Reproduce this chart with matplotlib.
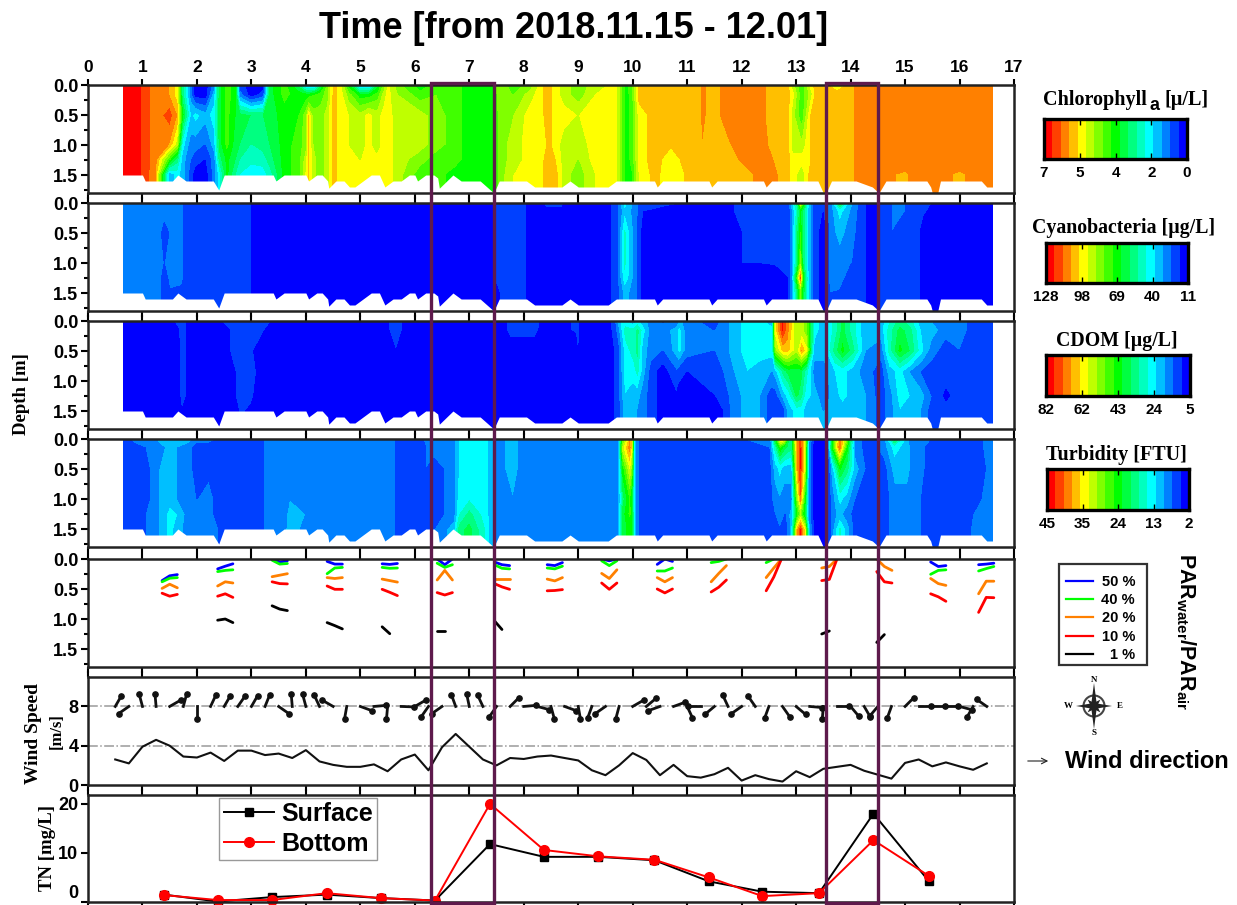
#!/usr/bin/env python3
"""Lake profile chart: four contour panels, PAR depths, wind and TN on a shared day axis."""
import numpy as np
import matplotlib
matplotlib.use("Agg")
import matplotlib.pyplot as plt
from matplotlib.colors import ListedColormap, BoundaryNorm
from matplotlib.patches import Rectangle, Circle

plt.rcParams["font.family"] = "Liberation Sans"
plt.rcParams["font.weight"] = "bold"
plt.rcParams["mathtext.fontset"] = "custom"
plt.rcParams["mathtext.bf"] = "Liberation Sans:bold"
plt.rcParams["mathtext.rm"] = "Liberation Sans:bold"

W, H = 1237, 905
PURPLE = "#5e1a4c"
SERIF = "Liberation Serif"

# colour bar bands, red to blue
band_colors = ["#ff0000", "#ff4000", "#ff8000", "#ffbf00", "#ffff00", "#bfff00", "#80ff00", "#40ff00",
               "#00ff00", "#00ff40", "#00ff80", "#00ffbf", "#00ffff", "#00bfff", "#0080ff", "#0040ff", "#0000ff"]

depths = [0.0, 0.15, 0.5, 1.0, 1.25, 1.5]
cdom_depths = [0.0, 0.15, 0.5, 0.85, 1.25, 1.5]

# contour data: day, then colour bar step (0 = top of scale, 16 = bottom) at each of depths
chl_columns = [
    [0.65, 0, 0, 0, 0, 0, 0], [0.95, .3, .3, .3, .3, .3, .3], [1.05, 1, 1, 1, 1, 1, .8],
    [1.25, 2, 2, 2, 2, 2, 2.5], [1.5, 2.5, 2.5, .9, 2.5, 7, 13], [1.65, 4, 4, 2.5, 5, 10, 12],
    [1.75, 10, 10, 8, 12, 13, 13], [1.9, 14, 14, 12.5, 14, 14.5, 15], [1.98, 16, 16, 12, 14, 15, 16],
    [2.15, 16, 16, 13, 14.5, 15.5, 16], [2.3, 14, 13, 12, 13, 14, 14], [2.4, 9, 9, 9, 9, 10, 12],
    [2.55, 7, 7, 7, 7, 8, 8], [2.72, 8, 8, 8.5, 9, 9.5, 10.5], [2.8, 15, 14, 9, 9.5, 10.5, 11.5],
    [3.0, 16, 16, 9.5, 10.5, 11, 12.5], [3.2, 16, 15, 9.5, 10, 11, 12], [3.32, 9, 9, 9, 9.5, 10, 11],
    [3.6, 7, 7, 8, 8, 8, 8], [3.85, 9, 8, 7.5, 7, 7, 7], [3.98, 12, 8, 6, 6, 5, 4.5],
    [4.05, 13, 8, 3, 3, 3, 3], [4.15, 13, 7.5, 6, 5.5, 5, 5], [4.25, 10, 7, 6, 6, 6, 6],
    [4.38, 6, 6, 5, 5, 5, 5], [4.5, 3, 3, 3, 3, 3, 3], [4.65, 4, 4, 4, 4, 4, 4],
    [4.8, 8, 6, 4.5, 4.5, 4.5, 4.5], [5.0, 13, 8, 5, 5, 4.5, 4.5], [5.15, 13, 8, 4, 4, 4, 4],
    [5.3, 9, 7, 5, 5, 4, 4], [5.42, 6, 5, 4, 4, 4, 4], [5.5, 4, 4, 4, 4, 4, 4],
    [5.7, 6, 5.5, 5, 5, 5, 5], [6.1, 8, 7, 5, 5, 6, 7], [6.4, 7, 6.5, 6, 6, 7, 7],
    [6.75, 7, 7, 7, 7, 7, 8], [7.0, 8, 8, 8, 8, 8, 8.5], [7.4, 8, 8, 8, 8, 8, 8],
    [7.55, 5.5, 5.5, 6, 6, 6, 6], [7.8, 7, 6.5, 5.5, 5, 5, 4.5], [8.1, 6, 5, 4, 4, 4, 4],
    [8.35, 3.5, 3.5, 3.5, 4, 3.5, 3.5], [8.45, 3, 3, 3, 3, 3, 3], [8.6, 4, 4, 4, 4, 3.5, 3],
    [8.75, 5, 5, 4, 5, 5, 5], [9.0, 6, 6, 4.5, 5, 5.5, 6], [9.3, 5, 4.5, 4, 4, 4, 4.5],
    [9.7, 4, 4, 4, 4, 4, 4], [9.8, 6, 6, 6, 6, 6, 6], [9.88, 8, 8, 8, 8, 8, 8],
    [9.98, 6.5, 6.5, 7, 7, 7, 7.5], [10.1, 3, 3, 4, 4, 4, 4.5], [10.4, 3, 3, 3, 3, 3, 3],
    [10.7, 3, 3, 3, 3.3, 4, 4.3], [11.0, 3, 3, 3, 3, 3, 3.3], [11.2, 3, 3, 3, 3, 3, 3],
    [11.28, 2, 2, 2, 2.5, 3, 3], [11.42, 3, 3, 3, 3, 3, 3], [11.75, 2, 2, 2, 2.6, 3, 3],
    [12.0, 2, 2, 2, 2, 2.3, 3], [12.4, 2, 2, 2, 2, 2, 2], [12.5, 3, 3, 3, 2.5, 2.3, 2],
    [12.85, 3, 3, 3, 3, 3, 3], [12.95, 5, 4, 5, 5, 4, 4], [13.1, 7, 7, 7, 5, 4, 5],
    [13.25, 4, 5, 3.5, 3.5, 3.5, 3], [13.35, 3, 3, 3, 3, 3, 3], [13.5, 3, 3, 3, 2.5, 2.5, 3],
    [13.75, 4, 3, 3, 3, 3, 3], [14.0, 3, 3, 3, 3, 3, 3], [14.1, 2, 2, 2, 2, 2, 2],
    [15.0, 2, 2, 2, 2, 2, 2.6], [15.3, 2, 2, 2, 2, 2, 2], [16.0, 2, 2, 2, 2, 2, 2.6],
    [16.6, 2, 2, 2, 2, 2, 2],
]
cyano_columns = [
    [0.65, 14, 14, 14, 14, 14, 14], [1.3, 14, 14, 14, 14, 14, 14], [1.4, 14, 14, 15, 14.5, 15, 15],
    [1.5, 14, 14, 14.4, 14, 14.2, 14.6], [1.72, 14, 14, 14, 14, 14, 15], [1.8, 15, 15, 15, 15, 15, 15],
    [2.95, 15, 15, 15, 15, 15, 15], [3.05, 16, 16, 16, 16, 16, 16], [5.4, 16, 16, 16, 16, 16, 16],
    [5.5, 15.4, 16, 16, 16, 16, 16], [5.65, 16, 16, 16, 16, 16, 16], [7.35, 16, 16, 16, 16, 16, 16],
    [7.55, 14.5, 15, 15, 15, 15, 15.5], [8.0, 15, 15, 15, 15, 15, 15], [8.1, 16, 16, 16, 16, 16, 16],
    [8.4, 15.4, 15.6, 16, 16, 16, 16], [8.7, 15.4, 15.6, 16, 16, 16, 16], [9.0, 16, 16, 16, 16, 16, 16],
    [9.5, 16, 16, 16, 16, 16, 16], [9.7, 15, 15, 15, 15, 15, 15], [9.85, 12, 12.5, 11, 11, 11.5, 13],
    [10.05, 14, 14, 14, 14, 14, 14], [10.2, 15.5, 15.5, 16, 16, 16, 16], [10.7, 15.3, 16, 16, 16, 16, 16],
    [11.7, 16, 16, 16, 16, 16, 16], [12.0, 15, 15, 15.5, 15.5, 16, 16], [12.2, 15, 15, 15, 15.5, 16, 16],
    [12.6, 14.8, 15, 15.4, 15.4, 16, 16], [12.85, 14.5, 15, 15, 15, 15.5, 15.5], [12.9, 13, 14, 14, 14, 14, 14],
    [13.0, 10, 11, 10, 10, 7, 10], [13.08, 3, 8, 7, 5, 0, 6], [13.15, 7, 10, 10, 10, 8, 9],
    [13.25, 13, 13, 13, 13, 13, 13], [13.35, 15, 15, 15, 15, 15, 15], [13.5, 15, 15.5, 16, 16, 16, 16],
    [13.62, 14, 14, 14, 14, 14, 14.5], [13.8, 8, 12, 13, 14, 14, 14.6], [14.0, 13, 13.5, 14, 14.4, 15, 15],
    [14.2, 15, 15, 15, 15, 15, 15.4], [14.3, 15.5, 15.5, 15.5, 15.5, 15.5, 15.5], [14.5, 15.7, 15.7, 15.7, 15.7, 15.7, 15.7],
    [14.6, 15, 15, 15, 15, 15, 15], [14.75, 14.5, 14.5, 14.5, 14.5, 14.5, 14.5], [15.0, 14.5, 14.5, 15, 15, 15, 15],
    [15.2, 15, 15, 15, 15, 15, 15], [15.35, 15, 15.4, 16, 16, 16, 16], [15.65, 16, 16, 16, 16, 16, 16],
    [16.6, 16, 16, 16, 16, 16, 16],
]
cdom_columns = [
    [0.65, 16, 16, 16, 16, 16, 16], [1.5, 16, 16, 16, 16, 16, 16], [1.65, 15, 15.6, 16, 16, 16, 16],
    [1.72, 15, 15, 15, 15, 15, 15.5], [1.9, 16, 16, 16, 16, 16, 16], [2.4, 15.6, 16, 16, 16, 16, 16],
    [2.6, 15, 15.5, 15.5, 16, 16, 16], [2.8, 15, 15, 15, 15, 15, 15.4], [3.0, 15, 15.5, 15.4, 15.2, 15.4, 15.6],
    [3.25, 15.4, 15.5, 16, 16, 16, 16], [3.5, 15.6, 16, 16, 16, 16, 16], [3.7, 16, 16, 16, 16, 16, 16],
    [5.0, 15.4, 16, 16, 16, 16, 16], [5.4, 16, 16, 16, 16, 16, 16], [5.65, 15, 15, 15.5, 16, 16, 16],
    [5.9, 16, 16, 16, 16, 16, 16], [7.55, 16, 16, 16, 16, 16, 16], [7.75, 15.2, 15.2, 16, 16, 16, 16],
    [8.0, 15.4, 15.2, 16, 16, 16, 16], [8.2, 15, 15.2, 16, 16, 16, 16], [8.4, 16, 16, 16, 16, 16, 16],
    [8.95, 15.4, 15.4, 16, 16, 16, 16], [9.0, 15, 15, 15.4, 15.4, 16, 16], [9.05, 16, 16, 16, 16, 16, 16],
    [9.55, 16, 16, 16, 16, 16, 16], [9.65, 15, 15, 15.5, 15.5, 15.5, 15.5], [9.72, 13, 14, 15, 15, 15, 15],
    [9.85, 12, 11, 12, 12, 12.5, 13], [10.0, 13, 11, 11, 12, 13, 13.5], [10.09, 12, 10, 10, 11, 13, 13.5],
    [10.2, 13, 12, 13, 13, 14, 14], [10.35, 14, 14, 14, 15, 15, 15], [10.55, 14.6, 14, 14.5, 16, 16, 16],
    [10.8, 14, 13, 13, 14.6, 15.6, 16], [10.85, 13, 12, 12, 15, 16, 16], [11.0, 14, 14, 14, 15.5, 16, 16],
    [11.5, 15, 14.5, 14.5, 15, 15.5, 16], [11.65, 14, 14, 14, 14.5, 15, 15.5], [11.85, 13, 13, 13, 13.5, 14, 14],
    [12.1, 12, 12, 12, 12.5, 13, 13], [12.35, 12, 12, 12, 13, 13.5, 13.5], [12.55, 13, 12, 12, 13.5, 15, 15],
    [12.6, 4, 4, 6, 13, 15, 15.5], [12.75, 0, 0, 3, 10, 13, 15], [12.85, 2, 2, 3, 9, 12, 13],
    [13.0, 5, 5, 5, 9, 9, 12], [13.1, 5, 5, 2, 9, 10, 12], [13.2, 6, 6, 4, 11, 12, 13],
    [13.35, 12, 12, 13, 14, 13, 13], [13.5, 13, 13, 13, 14, 14, 13.5], [13.7, 11, 11, 10, 12.5, 13, 13],
    [13.85, 9, 9, 8, 12, 12, 13], [14.05, 11, 11, 10, 13, 13, 13.5], [14.3, 13.5, 13.5, 13.5, 14, 13.5, 13.5],
    [14.55, 13, 13, 14, 15, 15, 15], [14.7, 11.5, 11, 11, 13, 14, 14], [14.9, 10, 9, 8, 12, 12, 12.5],
    [15.1, 11, 10, 9.5, 13.5, 12.5, 13], [15.3, 13, 12.5, 12, 14.5, 13, 13.5], [15.5, 13.5, 13, 14, 15, 14.5, 15],
    [15.75, 14, 14, 15, 15, 15.7, 15], [16.0, 14, 14, 14.5, 15, 15, 15], [16.3, 15, 15, 15, 15, 15, 15],
    [16.6, 15, 15, 15, 15, 15, 15],
]
turb_columns = [
    [0.65, 15, 15, 15, 15, 15, 15], [0.85, 14, 15, 15, 15, 15, 15], [1.05, 14, 14.5, 15, 15, 14.5, 14.5],
    [1.2, 14, 14, 14, 14, 14, 14], [1.3, 13, 14, 13.5, 13.5, 13.5, 13.5], [1.5, 13, 13, 13.5, 13, 12, 12],
    [1.65, 12.5, 13.5, 13.5, 13.5, 12.5, 13], [1.85, 13, 14, 14, 14, 14, 14], [2.0, 14, 15, 15, 14.5, 14, 14],
    [2.22, 14, 15, 14.8, 14, 14, 14], [2.4, 14.6, 15, 15, 15, 15, 14.5], [3.2, 15, 15, 15, 15, 15, 15],
    [3.25, 14, 14, 14, 14, 14, 14], [3.6, 14, 14, 14, 14, 14, 14], [3.7, 14, 14, 14, 13.5, 13, 12.5],
    [4.0, 14, 14, 14, 14, 13.5, 14], [4.4, 14, 14, 14, 14, 14, 13.5], [5.0, 13.6, 14, 14, 14, 14, 14],
    [5.6, 14, 14, 14, 14, 14, 14], [5.7, 15, 15, 15, 15, 15, 15], [6.1, 15, 15, 15, 15, 15, 15],
    [6.2, 14, 14.5, 14.5, 15, 15, 15], [6.35, 14, 14, 15, 15, 15, 14.5], [6.7, 14, 14, 14, 14, 14, 13],
    [6.8, 12.5, 12.5, 12.5, 12, 11.5, 10], [7.0, 12, 12, 12, 11.5, 10, 9], [7.3, 12, 12, 12, 12, 12, 11.5],
    [7.42, 13, 13, 13, 13, 13, 13], [7.5, 14, 14, 14, 14, 14, 14], [7.8, 13, 13, 13, 13.5, 13.5, 13.5],
    [8.0, 14, 14, 14, 14, 14, 14], [9.72, 14, 14, 14, 14, 14, 14], [9.8, 7, 5, 8, 10, 9, 9],
    [9.95, 2, 1.5, 4, 7, 7, 8], [10.0, 4, 4, 6, 9, 8, 8], [10.05, 13, 13, 13, 13, 13, 13],
    [10.15, 15, 15, 15, 15, 15, 15], [11.6, 15, 15, 15, 15, 15, 15], [11.8, 14.5, 14.7, 15, 15, 15, 15],
    [12.0, 14.5, 15, 15, 15, 15, 15], [12.5, 14.5, 14.5, 15, 15, 15, 15], [12.6, 8, 11, 13, 14, 14.5, 15],
    [12.7, 2, 7, 12, 13.5, 14, 14.5], [12.8, 3, 9, 13, 14, 14.5, 15], [12.9, 10, 10, 13, 14, 13, 13],
    [13.0, 2, 3, 3, 6, 8, 3], [13.08, 1, 0, 0, 1, 5, 0], [13.18, 4, 5, 5, 8, 9, 4],
    [13.25, 13, 14, 14, 14, 14, 13], [13.35, 16, 16, 16, 16, 16, 16], [13.55, 16, 16, 16, 16, 16, 16],
    [13.65, 9, 8, 13, 14, 14, 14], [13.8, 1, 1, 8, 12, 13, 11], [13.95, 6, 8, 10, 13, 14, 13],
    [14.1, 14, 14, 13, 14.5, 15, 15], [14.35, 15, 15, 15, 15, 15, 15], [14.6, 14, 14, 15, 15, 15, 15],
    [14.8, 8, 12, 13, 14, 14, 14], [15.05, 13, 13, 13, 14, 14, 14], [15.1, 14, 13.5, 13.5, 14, 14, 14],
    [15.5, 14.5, 15, 15, 15, 15, 15], [16.0, 15, 15, 15, 15, 15, 15], [16.2, 15, 15, 15, 15, 14.7, 14.5],
    [16.35, 15, 15, 15, 14.7, 14, 14], [16.5, 14, 14, 14.4, 14, 14, 14], [16.6, 14, 14, 14, 14, 14, 14],
]

# lake bottom under the contour panels
bottom_x = [0.6, 1.0, 1.05, 1.55, 1.65, 1.8, 2.3, 2.4, 2.5, 3.4, 3.45, 3.6, 4.0, 4.05, 4.2, 4.3, 4.4, 4.42,
            4.55, 4.7, 4.8, 4.9, 5.2, 5.35, 5.45, 5.6, 5.75, 5.9, 6.0, 6.05, 6.2, 6.35, 6.42, 6.45, 6.7, 6.85,
            7.2, 7.45, 7.55, 8.05, 8.2, 8.7, 8.85, 9.0, 9.55, 9.7, 10.4, 10.45, 10.55, 11.4, 11.45, 11.55,
            12.4, 12.45, 12.55, 13.4, 13.5, 13.55, 13.65, 14.1, 14.4, 14.52, 14.65, 15.4, 15.47, 15.5, 15.6,
            15.65, 16.4, 16.5, 16.65]
bottom_depth = [1.5, 1.5, 1.6, 1.6, 1.5, 1.6, 1.6, 1.75, 1.5, 1.5, 1.6, 1.5, 1.5, 1.6, 1.5, 1.5, 1.6, 1.72,
                1.6, 1.6, 1.7, 1.7, 1.5, 1.5, 1.7, 1.6, 1.6, 1.5, 1.5, 1.6, 1.5, 1.5, 1.55, 1.72, 1.5, 1.6,
                1.6, 1.8, 1.6, 1.6, 1.7, 1.7, 1.6, 1.7, 1.7, 1.6, 1.6, 1.7, 1.6, 1.6, 1.7, 1.6,
                1.6, 1.7, 1.6, 1.6, 1.8, 1.8, 1.6, 1.6, 1.7, 1.8, 1.6, 1.6, 1.7, 1.8, 1.8,
                1.6, 1.6, 1.7, 1.7]

# PAR depth segments, three points per site
par_left = [1.36, 2.38, 3.38, 4.39, 5.4, 6.41, 7.46, 8.43, 9.43, 10.45, 11.44, 12.45, 13.47, 14.48, 15.47, 16.35]
nan = float("nan")
par_50 = [[.36, .28, .26], [.165, .12, .08], [0, .05, .03], [.04, .085, .085], [.08, .09, .075], [0, .095, 0],
          [.05, .095, .11], [.095, .11, .06], [0, .03, 0], [.09, 0, .04], [nan, nan, nan], [nan, nan, nan],
          [nan, nan, nan], [nan, nan, nan], [.05, .125, .11], [.095, .085, .07]]
par_40 = [[.38, .32, .31], [.21, .19, .18], [.02, .085, .075], [.245, .15, .14], [.14, .155, .15], [.07, .14, .095],
          [.095, .155, .165], [.15, .165, .12], [.03, .11, .03], [.2, .2, .15], [.06, .04, 0], [.06, 0, nan],
          [nan, nan, nan], [nan, nan, nan], [.255, .19, .18], [.2, .16, .125]]
par_20 = [[.49, .42, .48], [.45, .38, .40], [.295, .27, .245], [.31, .325, .31], [.335, .36, .385], [.35, .19, .35],
          [.325, .325, .325], [.335, .365, .31], [.24, .325, .18], [.31, .38, .31], [.38, .24, .11], [.31, .15, 0],
          [.15, .125, 0], [0, .125, .19], [.325, .41, .44], [.58, .37, .37]]
par_10 = [[.57, .62, .59], [.62, .58, .64], [.38, .41, .415], [.45, .505, .505], [.505, .555, .61], [.56, .6, .56],
          [.41, .465, .505], [.53, .525, .51], [.4, .505, .4], [.5, .565, .5], [.55, .47, .35], [.53, .3, 0],
          [.36, .34, 0], [.21, .38, .4], [.58, .63, .705], [.89, .64, .645]]
par_1 = [[nan, nan, nan], [1.02, 1.0, 1.06], [.78, .835, .86], [1.06, 1.11, 1.165], [1.13, 1.245, nan], [1.2, 1.2, nan],
         [1.03, 1.175, nan], [nan, nan, nan], [nan, nan, nan], [nan, nan, nan], [nan, nan, nan], [nan, nan, nan],
         [1.25, 1.2, nan], [1.39, 1.26, nan], [nan, nan, nan], [nan, nan, nan]]

# wind, every quarter day
wind_x = np.arange(65) * 0.25 + 0.5
wind_speed = [2.6, 2.2, 3.9, 4.6, 4.0, 2.9, 2.8, 3.3, 2.45, 3.5, 3.5, 3.05, 3.2, 2.75, 3.55, 2.4, 2.05, 1.85, 1.85,
              2.1, 1.4, 2.6, 3.1, 1.5, 3.85, 5.2, 3.9, 2.6, 2.0, 2.75, 2.65, 2.9, 3.0, 2.75, 2.5, 1.5, 1.0, 2.0,
              3.25, 2.55, 1.0, 2.05, 0.9, 0.75, 1.1, 1.75, 0.45, 1.0, 0.6, 0.35, 1.4, 0.8, 1.65, 1.85, 2.05, 1.45,
              1.05, 0.65, 2.25, 2.6, 1.9, 2.3, 1.9, 1.55, 2.2]
wind_dir = [30, 235, 345, 355, 60, 15, 180, 25, 30, 35, 30, 22, 125, 355, 345, 335, 300, 190, 110, 85, 185, 92, 60,
            215, 235, 340, 348, 335, 215, 45, 85, 105, 165, 110, 170, 200, 235, 195, 60, 50, 250, 70, 155, 270, 230,
            335, 235, 325, 200, 145, 130, 95, 185, 90, 140, 150, 220, 200, 45, 90, 90, 90, 105, 210, 305]

# total nitrogen
tn_x = [1.4, 2.38, 3.38, 4.38, 5.37, 6.37, 7.38, 8.37, 9.37, 10.4, 11.4, 12.38, 13.42, 14.42, 15.44]
tn_surface = [1.5, 0.1, 1.0, 1.5, 0.8, 0.3, 11.8, 9.2, 9.2, 8.5, 4.2, 2.1, 1.8, 18.0, 4.2]
tn_bottom = [1.4, 0.4, 0.4, 1.8, 0.8, 0.3, 20.0, 10.6, 9.3, 8.6, 5.0, 1.2, 1.8, 12.6, 5.3]

# colour bars
chl_ticks = ["7", "5", "4", "2", "0"]
cyano_ticks = ["128", "98", "69", "40", "11"]
cdom_ticks = ["82", "62", "43", "24", "5"]
turb_ticks = ["45", "35", "24", "13", "2"]
par_names = ["50 %", "40 %", "20 %", "10 %", "1 %"]
par_colors = ["#0000ff", "#00ff00", "#ff8000", "#ff0000", "#000000"]
day_ticks = np.arange(18)

cmap = ListedColormap(band_colors)
norm = BoundaryNorm(np.arange(-0.5, 17.5), 17)


def axes_px(left, top, right, bottom):
    return fig.add_axes([left / W, 1 - bottom / H, (right - left) / W, (bottom - top) / H])


def style(ax, top_labels=False):
    ax.set_xlim(0, 17)
    ax.set_xticks(day_ticks)
    ax.tick_params(axis="x", which="major", top=True, bottom=True, labeltop=top_labels, labelbottom=False,
                   direction="out", length=4, width=1.5, labelsize=12.5, pad=3)
    ax.tick_params(axis="y", which="both", direction="out", width=1.5, labelsize=13, pad=2)
    ax.tick_params(axis="y", which="major", length=5)
    ax.tick_params(axis="y", which="minor", length=3)
    for s in ax.spines.values():
        s.set_linewidth(1.8)
        s.set_color("#222222")


def depth_axis(ax):
    ax.set_ylim(1.8, 0)
    ax.set_yticks([0, 0.5, 1.0, 1.5], ["0.0", "0.5", "1.0", "1.5"])
    ax.set_yticks([0.25, 0.75, 1.25, 1.75], minor=True)


def contour_panel(top, columns, rows=depths, top_labels=False):
    ax = axes_px(88, top, 1014, top + 108)
    arr = np.array(columns, dtype=float)
    steps = arr[:, 1:].T
    # bottom row carried down so the fill reaches the lake bed
    z = np.vstack([steps, steps[-1]])
    y = np.array(rows + [1.8])
    ax.contourf(arr[:, 0], y, z, levels=np.arange(-0.5, 17.5), cmap=cmap, norm=norm)
    ax.fill_between(bottom_x, bottom_depth, 1.81, color="white", lw=0, zorder=2)
    depth_axis(ax)
    style(ax, top_labels)
    return ax


def colour_bar(left, top, right, bottom, labels):
    cax = axes_px(left, top, right, bottom)
    edges = np.linspace(0, 1, 18)
    cax.pcolormesh(edges, [0, 1], np.arange(17).reshape(1, -1), cmap=cmap, norm=norm)
    cax.set_xlim(0, 1)
    cax.set_ylim(0, 1)
    cax.set_yticks([])
    cax.set_xticks(np.linspace(0, 1, 5), labels)
    cax.tick_params(axis="x", direction="in", length=4, width=1, top=True, labelsize=11, pad=5)
    for s in cax.spines.values():
        s.set_linewidth(2.4)


fig = plt.figure(figsize=(W / 100, H / 100), dpi=100)

contour_panel(85, chl_columns, top_labels=True)
contour_panel(203, cyano_columns)
contour_panel(321, cdom_columns, rows=cdom_depths)
contour_panel(439, turb_columns)

# PAR panel
ax5 = axes_px(88, 559, 1014, 667)
for vals, col in zip([par_50, par_40, par_20, par_10, par_1], par_colors):
    for left, seg in zip(par_left, vals):
        ax5.plot([left, left + 0.14, left + 0.28], seg, color=col, lw=2, solid_capstyle="round")
depth_axis(ax5)
style(ax5)

# wind panel
ax6 = axes_px(88, 677, 1014, 785)
ax6.set_ylim(0, 11)
ax6.axhline(4, color="#9a9a9a", lw=1.1, ls="-.")
ax6.axhline(8, color="#9a9a9a", lw=1.1, ls="-.")
ax6.plot(wind_x, wind_speed, color="#111111", lw=1.5)
stick_px = 12.5
px_x, px_y = 926 / 17, 108 / 11
for x, d in zip(wind_x, wind_dir):
    a = np.deg2rad(d)
    x1, y1 = x + stick_px * np.sin(a) / px_x, 8 + stick_px * np.cos(a) / px_y
    ax6.plot([x, x1], [8, y1], color="#111111", lw=2)
    ax6.plot(x1, y1, "o", color="#111111", ms=3.8)
ax6.set_yticks([0, 4, 8])
style(ax6)

# TN panel
ax7 = axes_px(88, 795, 1014, 902)
ax7.set_ylim(0, 21.8)
ax7.plot(tn_x, tn_surface, "-s", color="black", lw=1.4, ms=6, label="Surface", clip_on=False)
ax7.plot(tn_x, tn_bottom, "-o", color="red", lw=1.4, ms=7, label="Bottom", clip_on=False)
ax7.set_yticks([0, 10, 20])
style(ax7)
# the zero label would run off the bottom of the figure
ax7.get_yticklabels()[0].set_verticalalignment("bottom")
ax7.legend(loc="upper left", bbox_to_anchor=((219 - 88) / 926, 0.975), fontsize=18, frameon=True, fancybox=False,
           edgecolor="#999999", framealpha=1, labelspacing=0.22, handlelength=2.0, handletextpad=0.3,
           borderpad=0.18, borderaxespad=0)

colour_bar(1044, 119, 1187, 159, chl_ticks)
colour_bar(1046, 243, 1188, 283, cyano_ticks)
colour_bar(1046, 355, 1190, 396, cdom_ticks)
colour_bar(1047, 469, 1189, 510, turb_ticks)

# everything else sits on a pixel overlay
ov = fig.add_axes([0, 0, 1, 1], zorder=10)
ov.set_xlim(0, W)
ov.set_ylim(H, 0)
ov.axis("off")

ov.add_patch(Rectangle((431, 83), 63, 820, fill=False, ec=PURPLE, lw=2.4, clip_on=False))
ov.add_patch(Rectangle((826, 83), 52, 820, fill=False, ec=PURPLE, lw=2.4, clip_on=False))

ov.text(574, 29, "Time [from 2018.11.15 - 12.01]", fontsize=26, ha="center", va="center")

serif = dict(family=SERIF, weight="bold", va="center")
ov.text(21, 394, "Depth [m]", rotation=90, ha="center", fontsize=13.5, **serif)
ov.text(33, 733, "Wind Speed", rotation=90, ha="center", fontsize=14, **serif)
ov.text(57, 731, "[m/s]", rotation=90, ha="center", fontsize=12, **serif)
ov.text(47, 848, "TN [mg/L]", rotation=90, ha="center", fontsize=13.5, **serif)

ov.text(1043, 100, "Chlorophyll", ha="left", fontsize=14.5, **serif)
ov.text(1149, 105, "a", ha="left", fontsize=13, family="Liberation Sans", va="center")
ov.text(1164, 100, "[µ/L]", ha="left", fontsize=14.5, **serif)
ov.text(1124, 228, "Cyanobacteria [µg/L]", ha="center", fontsize=14.3, **serif)
ov.text(1117, 341, "CDOM [µg/L]", ha="center", fontsize=14.3, **serif)
ov.text(1116, 455, "Turbidity [FTU]", ha="center", fontsize=14.5, **serif)

# PAR key
ov.add_patch(Rectangle((1059, 564), 88, 101, fc="white", ec="#333333", lw=1.6))
for i, (name, col) in enumerate(zip(par_names, par_colors)):
    yy = 581 + i * 18.2
    ov.plot([1066, 1093], [yy, yy], color=col, lw=1.6)
    ov.text(1135, yy + 1, name, ha="right", va="center", fontsize=10.5)
ov.text(1186, 632, r"PAR$_{\mathbf{water}}$/PAR$_{\mathbf{air}}$", rotation=270, ha="center", va="center", fontsize=15.5)

# compass
cx, cy = 1094, 706
ov.add_patch(Circle((cx, cy), 10.5, fill=False, ec="#444444", lw=1.5))
for ang, length in zip(range(0, 360, 45), [23, 9, 18, 9, 23, 9, 18, 9]):
    a = np.deg2rad(ang)
    tip = (cx + length * np.sin(a), cy - length * np.cos(a))
    s1 = (cx + 3 * np.cos(a), cy + 3 * np.sin(a))
    s2 = (cx - 3 * np.cos(a), cy - 3 * np.sin(a))
    ov.fill([tip[0], s1[0], s2[0]], [tip[1], s1[1], s2[1]], color="#222222", lw=0)
for letter, lx, ly in [("N", cx, 680), ("S", cx, 733), ("W", 1068, cy), ("E", 1120, cy)]:
    ov.text(lx, ly, letter, ha="center", va="center", fontsize=6.5, family=SERIF)

ov.annotate("", xy=(1051, 761), xytext=(1025, 761), arrowprops=dict(arrowstyle="->", lw=0.8, color="#222222"))
ov.text(1065, 761, "Wind direction", ha="left", va="center", fontsize=17)

fig.savefig("out.png", dpi=100)
